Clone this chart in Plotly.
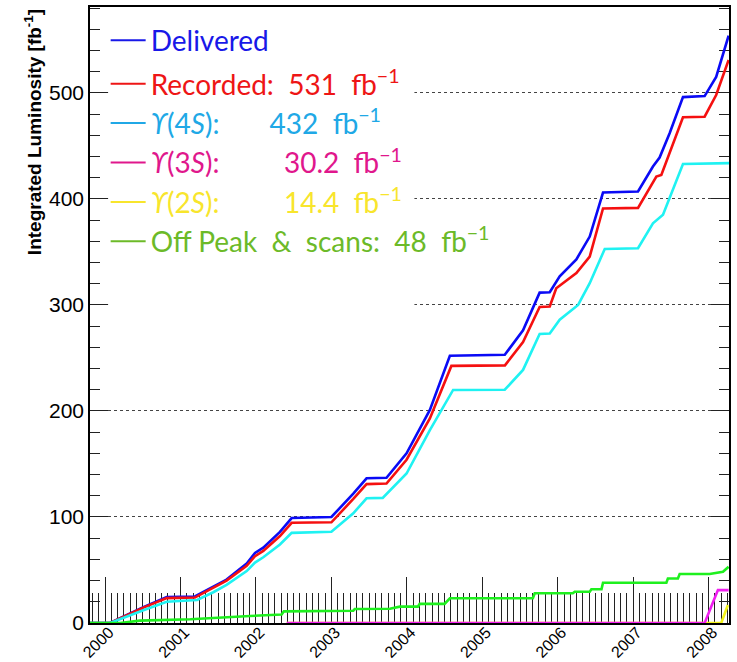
import plotly.graph_objects as go

# ---------------- data (decimal year, integrated luminosity in fb^-1) ----------------
delivered_x = [1999.80, 2000.066, 2000.507, 2000.817, 2001.19, 2001.434, 2001.61, 2001.877, 2001.987,
               2002.097, 2002.318, 2002.473, 2003.00, 2003.29, 2003.466, 2003.73, 2003.996, 2004.305,
               2004.57, 2005.298, 2005.54, 2005.76, 2005.894, 2006.026, 2006.247, 2006.424, 2006.60,
               2007.064, 2007.262, 2007.35, 2007.483, 2007.66, 2007.947, 2008.10, 2008.265]
delivered_y = [0, 0, 15, 24.5, 25, 34, 41, 56, 66,
               71, 86, 99, 100, 122, 136.5, 137, 160, 201,
               252, 253, 276, 311.6, 312, 327, 343, 364.5, 406,
               407, 430.5, 439, 462, 496, 497, 515, 554]

recorded_x = [1999.80, 2000.066, 2000.507, 2000.817, 2001.19, 2001.434, 2001.61, 2001.877, 2001.987,
              2002.097, 2002.318, 2002.473, 2003.00, 2003.29, 2003.466, 2003.73, 2003.996, 2004.305,
              2004.59, 2005.30, 2005.54, 2005.76, 2005.894, 2005.98, 2006.247, 2006.424, 2006.60,
              2007.064, 2007.307, 2007.373, 2007.66, 2007.947, 2008.10, 2008.265]
recorded_y = [0, 0, 14.5, 23.5, 24, 33, 40, 54, 63,
              68, 82, 94.5, 95, 117, 131, 131.5, 154, 193,
              242.5, 243, 265, 298, 298.5, 315.7, 330, 345.6, 391,
              391.5, 421, 422.6, 477, 477.5, 498, 531]

y4s_x = [1999.80, 2000.066, 2000.507, 2000.817, 2001.22, 2001.434, 2001.61, 2001.877, 2001.987,
         2002.097, 2002.318, 2002.473, 2003.00, 2003.29, 2003.466, 2003.68, 2003.996, 2004.305,
         2004.613, 2005.298, 2005.54, 2005.76, 2005.894, 2006.026, 2006.27, 2006.424, 2006.623,
         2007.064, 2007.262, 2007.395, 2007.66, 2008.27]
y4s_y = [0, 0, 12, 20, 21.7, 29, 36, 49, 57,
         62, 74, 85, 86, 103.5, 117.6, 118, 141, 182,
         219.8, 220, 238.7, 272.6, 273, 286, 300, 320.5, 352.8,
         353.5, 377, 385, 433, 433.7]

y3s_x = [2002.407, 2007.947, 2008.123, 2008.265]
y3s_y = [0, 0, 31, 31]

y2s_x = [2002.407, 2008.167, 2008.255]
y2s_y = [0, 0, 17]

offpeak_x = [1999.80, 2000.20, 2000.46, 2001.13, 2001.92, 2002.34, 2002.37, 2003.29, 2003.31, 2003.775,
             2003.907, 2004.146, 2004.17, 2004.50, 2004.57, 2005.67, 2005.695, 2006.20, 2006.225,
             2006.424, 2006.446, 2006.58, 2006.60, 2007.44, 2007.46, 2007.593, 2007.616, 2008.013,
             2008.19, 2008.265]
offpeak_y = [0, 0, 2.2, 3.5, 6.6, 8, 11, 11.6, 13.2, 13.5,
             15.4, 15.4, 18, 18, 23.3, 23.3, 28, 28, 29.5,
             29.5, 31.8, 31.8, 38, 38, 42, 42, 46.2, 46.2,
             48.4, 53]

S = "\u00a0"
legend_labels = [
    "Delivered",
    f"Recorded:{S*2}531{S*2}fb<sup>\u22121</sup>",
    f"<i>\u03d2</i>(4<i>S</i>):{S*7}432{S*2}fb<sup>\u22121</sup>",
    f"<i>\u03d2</i>(3<i>S</i>):{S*9}30.2{S*2}fb<sup>\u22121</sup>",
    f"<i>\u03d2</i>(2<i>S</i>):{S*9}14.4{S*2}fb<sup>\u22121</sup>",
    f"Off{S}Peak{S*2}&amp;{S*2}scans:{S*2}48{S*2}fb<sup>\u22121</sup>",
]
legend_colors = ["#1818e8", "#ee1515", "#20a8e6", "#e0178c", "#f8e52c", "#6cba28"]
legend_groups = ["top", "rest", "rest", "rest", "rest", "rest"]

# ---------------- figure ----------------
fig = go.Figure()

series = [
    (delivered_x, delivered_y, "#0a0af5"),
    (recorded_x, recorded_y, "#f51010"),
    (y4s_x, y4s_y, "#1ff2f2"),
    (y2s_x, y2s_y, "#f2f21a"),
    (y3s_x, y3s_y, "#f01ef0"),
    (offpeak_x, offpeak_y, "#1ef01e"),
]
for xs, ys, col in series:
    fig.add_trace(go.Scatter(x=xs, y=ys, mode="lines", showlegend=False,
                             line=dict(color=col, width=2.6), hoverinfo="skip"))

for lab, col, grp in zip(legend_labels, legend_colors, legend_groups):
    fig.add_trace(go.Scatter(x=[None], y=[None], mode="lines", showlegend=True,
                             legendgroup=grp,
                             name=f'<span style="color:{col}">{lab}</span>',
                             line=dict(color=col, width=2)))

# white box behind the legend hiding grid lines (above grid, below traces)
fig.add_shape(type="rect", xref="x", yref="y", x0=2000.04, x1=2004.1, y0=292, y1=572,
              fillcolor="white", line=dict(width=0), layer="between")

fig.update_layout(
    width=737, height=662,
    margin=dict(l=90, r=8, t=7, b=39, autoexpand=False),
    paper_bgcolor="white", plot_bgcolor="white",
    font=dict(family="Liberation Sans, Arial, sans-serif", color="black"),
    legend=dict(x=0.0245, y=0.986, xanchor="left", yanchor="top",
                bgcolor="rgba(0,0,0,0)", borderwidth=0, itemwidth=35,
                font=dict(family="Lato, Open Sans, sans-serif", size=28),
                tracegroupgap=4, groupclick="toggleitem"),
    annotations=[dict(text="<b>Integrated Luminosity [fb<sup>-1</sup>]</b>",
                      xref="paper", yref="paper", x=-0.089, y=1.0,
                      xanchor="center", yanchor="top", textangle=-90, showarrow=False,
                      font=dict(size=19, family="Liberation Sans, Arial, sans-serif"))],
)

fig.update_xaxes(
    range=[1999.8, 2008.27], tickmode="linear", tick0=2000, dtick=1, tickformat="d",
    ticks="inside", ticklen=46, tickwidth=1.2, tickcolor="#222",
    minor=dict(tick0=2000, dtick=1/12, ticks="inside", ticklen=30, tickwidth=1.2, tickcolor="#222"),
    tickangle=-45, tickfont=dict(size=16), ticklabelstandoff=-8, ticklabelshift=4,
    showline=True, linecolor="black", linewidth=1.5, mirror=True,
    showgrid=False, zeroline=False, layer="below traces", automargin=False,
)
fig.update_yaxes(
    range=[0, 581], tickmode="linear", tick0=0, dtick=100,
    ticks="inside", ticklen=18, tickwidth=1.2, tickcolor="#222",
    minor=dict(dtick=20, ticks="inside", ticklen=10, tickwidth=1.2, tickcolor="#222", showgrid=False),
    tickfont=dict(size=21),
    showline=True, linecolor="black", linewidth=1.5, mirror="ticks",
    showgrid=True, gridcolor="#444", griddash="dot", gridwidth=1,
    zeroline=False, layer="below traces", automargin=False,
)

fig.write_html("out.html", config={"displayModeBar": False},
               post_script="document.body.style.margin='0px';")
